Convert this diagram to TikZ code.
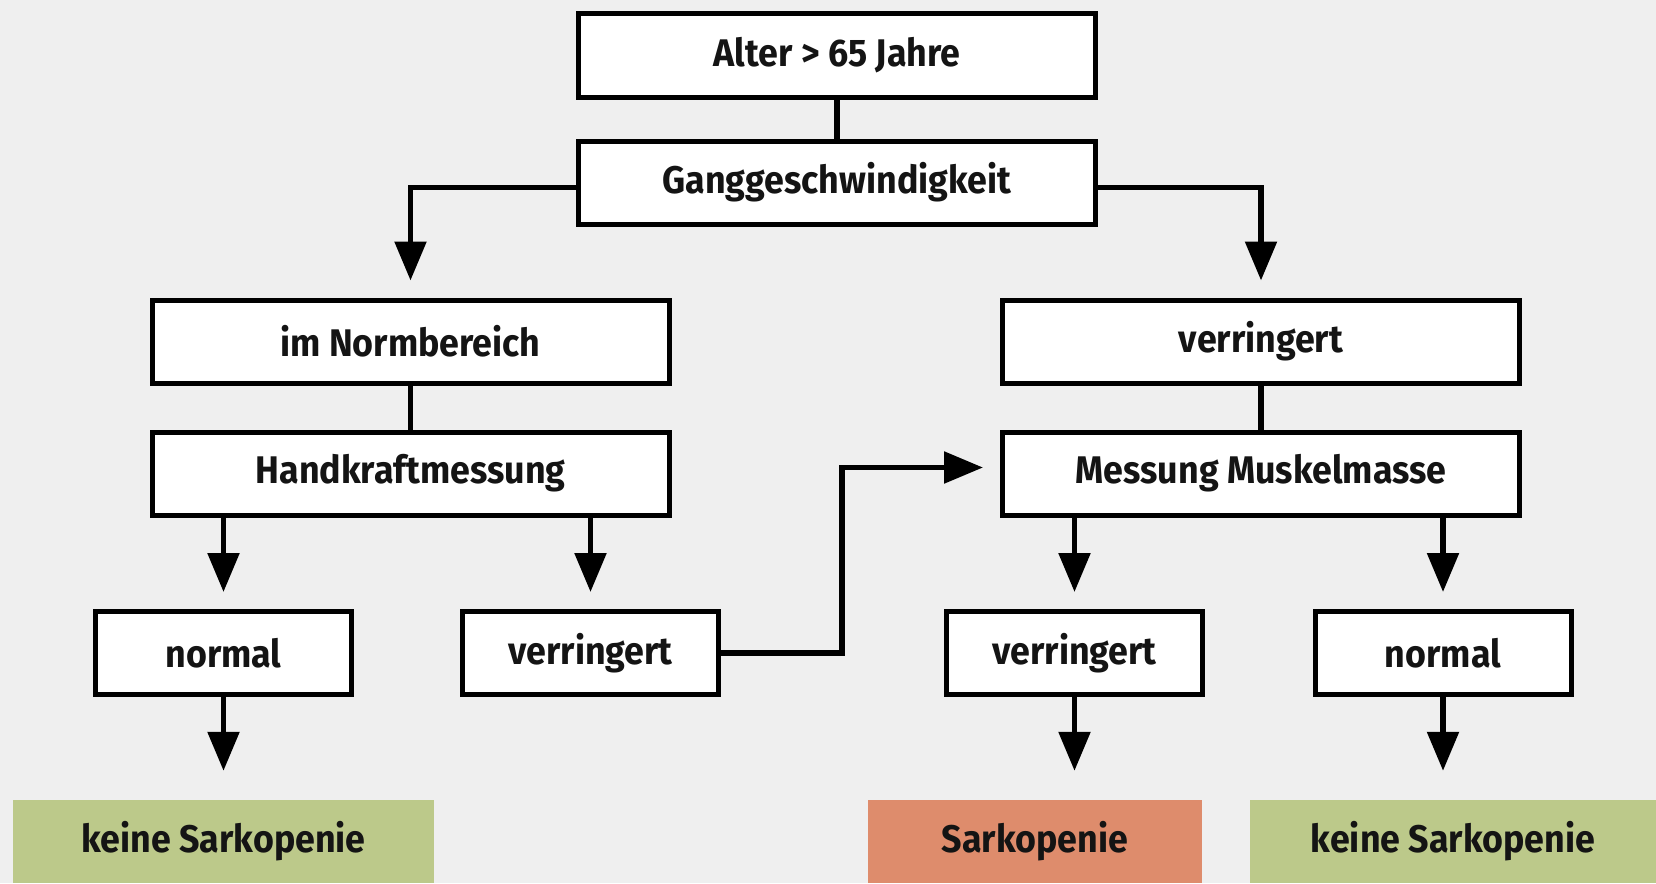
\documentclass[tikz,border=0pt]{standalone}
\usepackage{fontspec}
\setmainfont{Fira Sans}[FakeStretch=0.93]
\usetikzlibrary{arrows.meta}
\definecolor{bg}{HTML}{EFEFEF}
\definecolor{grn}{HTML}{BCC98A}
\definecolor{org}{HTML}{DE8C6C}
\definecolor{txt}{HTML}{141414}
\tikzset{
  box/.style={draw=black, line width=5pt, fill=white, inner sep=0pt, text=txt,
    font=\fontsize{38.5}{44}\selectfont\bfseries},
  wide/.style={box, minimum width=517pt, minimum height=83pt},
  small/.style={box, minimum width=256pt, minimum height=83pt},
  result/.style={inner sep=0pt, text=txt, minimum height=83pt,
    font=\fontsize{38.5}{44}\selectfont\bfseries},
  conn/.style={line width=5.5pt, draw=black},
  arr/.style={conn, -{Triangle[length=39pt,width=31pt]}, shorten >=17pt},
  arrlong/.style={arr, shorten >=29pt},
}
\begin{document}
\begin{tikzpicture}[x=1pt,y=-1pt]
\fill[bg] (0,0) rectangle (1656,883);
\useasboundingbox (0,0) rectangle (1656,883);

\node[wide] (alter) at (837,55.5) {Alter > 65 Jahre};
\node[wide] (gang) at (837,182.5) {Ganggeschwindigkeit};
\node[wide] (norm) at (410.5,341.5) {im Normbereich};
\node[wide] (hand) at (410.5,473.5) {Handkraftmessung};
\node[wide] (verr) at (1261,341.5) {verringert};
\node[wide] (mess) at (1261,473.5) {Messung Muskelmasse};
\node[small] (normL) at (223.5,653) {normal};
\node[small] (verrL) at (590.5,653) {verringert};
\node[small] (verrR) at (1074.5,653) {verringert};
\node[small] (normR) at (1443,653) {normal};
\node[result, fill=grn, minimum width=421pt] (keineL) at (223.5,841.5) {keine Sarkopenie};
\node[result, fill=org, minimum width=334pt] (sark) at (1035,841.5) {Sarkopenie};
\node[result, fill=grn, minimum width=406pt] (keineR) at (1453,841.5) {keine Sarkopenie};

\draw[conn] (alter.south) -- (gang.north);
\draw[conn] (norm.south) -- (hand.north);
\draw[conn] (verr.south) -- (mess.north);
\draw[arr] ([yshift=-5pt]gang.west) -| (norm.north);
\draw[arr] ([yshift=-5pt]gang.east) -| (verr.north);
\draw[arr] (hand.south -| normL.north) -- (normL.north);
\draw[arr] (hand.south -| verrL.north) -- (verrL.north);
\draw[arr] (mess.south -| verrR.north) -- (verrR.north);
\draw[arr] (mess.south -| normR.north) -- (normR.north);
\draw[arrlong] (normL.south) -- (keineL.north);
\draw[arrlong] (verrR.south) -- (sark.north -| verrR.south);
\draw[arrlong] (normR.south) -- (keineR.north -| normR.south);
\coordinate (bend) at (842,0);
\draw[arr] (verrL.east) -- (verrL.east -| bend) -- ([yshift=6pt]mess.west -| bend) -- ([yshift=6pt]mess.west);
\end{tikzpicture}
\end{document}
